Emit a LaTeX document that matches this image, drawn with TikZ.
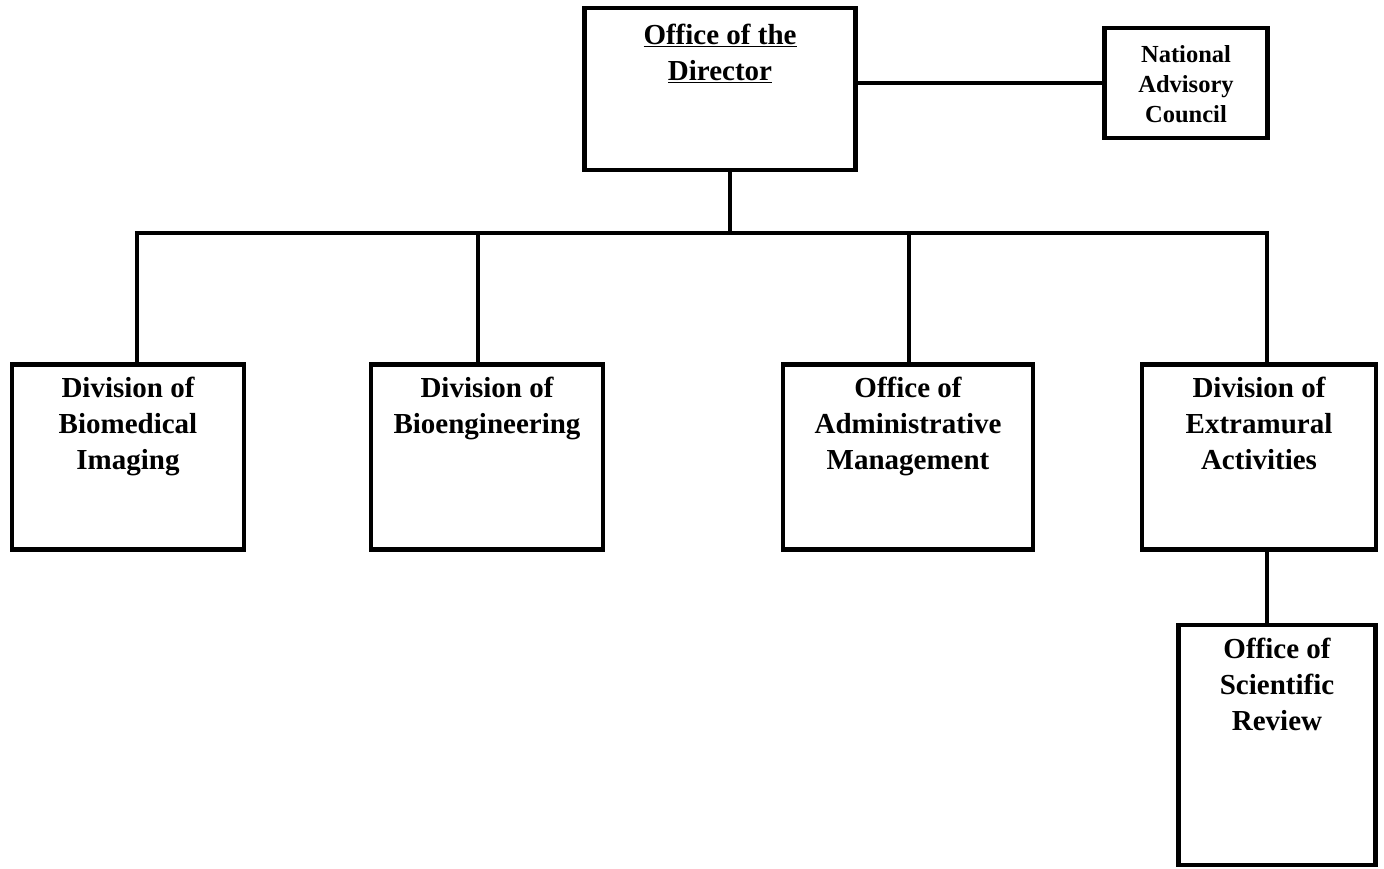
\documentclass[tikz,border=0pt]{standalone}
\usepackage{fontspec}
\setmainfont{Liberation Serif}
\begin{document}
\begin{tikzpicture}[x=1pt,y=-1pt,
  orgbox/.style={draw=black,line width=4.5pt,minimum width=#1,inner sep=0pt},
  conn/.style={draw=black,line width=4.5pt},
  lbl/.style={anchor=north,align=center,inner sep=0pt,font=\bfseries\fontsize{29}{36}\selectfont},
  smalllbl/.style={anchor=north,align=center,inner sep=0pt,font=\bfseries\fontsize{24.5}{30}\selectfont}]
\useasboundingbox[fill=white] (0,0) rectangle (1384,869);
% boxes
\node[orgbox=271pt,minimum height=162pt] (dir) at (720,89) {};
\node[orgbox=163pt,minimum height=110pt] (nac) at (1186,83) {};
\node[orgbox=232pt,minimum height=185pt] (dbi) at (128,457) {};
\node[orgbox=232pt,minimum height=185pt] (dbe) at (487,457) {};
\node[orgbox=250pt,minimum height=185pt] (oam) at (908,457) {};
\node[orgbox=234pt,minimum height=185pt] (dea) at (1259,457) {};
\node[orgbox=197pt,minimum height=240pt] (osr) at (1277,745) {};
% labels
\node[lbl] (tdir) at ([yshift=-18pt]dir.north) {\underline{Office of the}\\\underline{Director}};
\node[smalllbl] (tnac) at ([yshift=-20pt]nac.north) {National\\Advisory\\Council};
\node[lbl] (tdbi) at ([yshift=-15pt]dbi.north) {Division of\\Biomedical\\Imaging};
\node[lbl] (tdbe) at ([yshift=-15pt]dbe.north) {Division of\\Bioengineering};
\node[lbl] (toam) at ([yshift=-15pt]oam.north) {Office of\\Administrative\\Management};
\node[lbl] (tdea) at ([yshift=-15pt]dea.north) {Division of\\Extramural\\Activities};
\node[lbl] (tosr) at ([yshift=-15pt]osr.north) {Office of\\Scientific\\Review};
% bus coordinates
\coordinate (j0) at (730,233);
\coordinate (j1) at (137,233);
\coordinate (j2) at (478,233);
\coordinate (j3) at (909,233);
\coordinate (j4) at (1267,233);
% connectors
\draw[conn] (nac.west -| dir.east) -- (nac.west);
\draw[conn] (dir.south -| j0) -- (j0);
\draw[conn] ([xshift=-2.25pt]j1) -- ([xshift=2.25pt]j4);
\draw[conn] ([yshift=-2.25pt]j1) -- (dbi.north -| j1);
\draw[conn] (j2) -- (dbe.north -| j2);
\draw[conn] (j3) -- (oam.north -| j3);
\draw[conn] ([yshift=-2.25pt]j4) -- (dea.north -| j4);
\draw[conn] (dea.south -| j4) -- (osr.north -| j4);
\end{tikzpicture}
\end{document}
